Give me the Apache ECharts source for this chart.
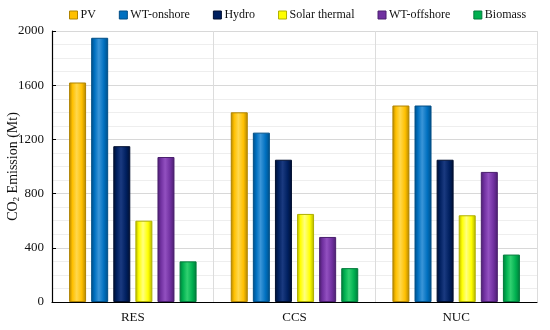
<!DOCTYPE html>
<html>
<head>
<meta charset="utf-8">
<script src="https://cdn.jsdelivr.net/npm/echarts@6/dist/echarts.min.js"></script>
<style>html,body{margin:0;padding:0;background:#fff}#c{width:550px;height:330px}</style>
</head>
<body>
<div id="c"></div>
<script>
var categories = ['RES', 'CCS', 'NUC'];
var seriesNames = ['PV', 'WT-onshore', 'Hydro', 'Solar thermal', 'WT-offshore', 'Biomass'];
var pv = [1620, 1400, 1450];
var wtOnshore = [1950, 1250, 1450];
var hydro = [1150, 1050, 1050];
var solarThermal = [600, 650, 640];
var wtOffshore = [1070, 480, 960];
var biomass = [300, 250, 350];
var yTicks = [0, 400, 800, 1200, 1600, 2000];

var seriesData = [pv, wtOnshore, hydro, solarThermal, wtOffshore, biomass];
var baseColors = ['#FFC000', '#0070C0', '#002060', '#FFFF00', '#7030A0', '#00B050'];
var darkColors = ['#B08400', '#004E86', '#000F30', '#B0B000', '#4A1F6E', '#007A3A'];
var lightColors = ['#FFD84D', '#3A95D8', '#1A3A80', '#FFFF80', '#9250C0', '#30D070'];
var font = '"Liberation Serif", "Times New Roman", serif';

var series = seriesNames.map(function (n, i) {
  return {
    name: n,
    type: 'bar',
    data: seriesData[i],
    barWidth: 17,
    barGap: '30%',
    itemStyle: {
      color: {
        type: 'linear', x: 0, y: 0, x2: 1, y2: 0,
        colorStops: [
          {offset: 0, color: darkColors[i]},
          {offset: 0.2, color: baseColors[i]},
          {offset: 0.45, color: lightColors[i]},
          {offset: 0.75, color: baseColors[i]},
          {offset: 1, color: darkColors[i]}
        ]
      },
      borderColor: darkColors[i],
      borderWidth: 1
    }
  };
});

var chart = echarts.init(document.getElementById('c'));
chart.setOption({
  animation: false,
  textStyle: {fontFamily: font},
  legend: {
    top: 4,
    left: 64,
    right: 0,
    itemWidth: 8,
    itemHeight: 8,
    itemGap: 23,
    icon: 'rect',
    textStyle: {fontFamily: font, fontSize: 12, color: '#111', padding: [0, 0, 0, -2]},
    data: seriesNames.map(function (n, i) {
      return {name: n, itemStyle: {color: baseColors[i], borderColor: darkColors[i], borderWidth: 1}};
    })
  },
  grid: {left: 52, right: 13, top: 31, bottom: 28, containLabel: false, outerBoundsMode: 'none'},
  xAxis: {
    type: 'category',
    data: categories,
    axisLine: {lineStyle: {color: '#000', width: 1.2}},
    axisTick: {show: false},
    axisLabel: {fontFamily: font, fontSize: 13, color: '#111', margin: 9},
    splitLine: {show: true, lineStyle: {color: '#DCDCDC', width: 1}}
  },
  yAxis: {
    type: 'value',
    min: yTicks[0],
    max: yTicks[yTicks.length - 1],
    interval: 400,
    name: '{a|CO}{s|2}{a| Emission (Mt)}',
    nameLocation: 'middle',
    nameGap: 31,
    nameMoveOverlap: false,
    nameTextStyle: {
      rich: {
        a: {fontFamily: font, fontSize: 14, color: '#111'},
        s: {fontFamily: font, fontSize: 9, color: '#111', verticalAlign: 'bottom', padding: [6, 0, 0, 0]}
      }
    },
    axisLine: {show: true, lineStyle: {color: '#000', width: 1.2}},
    axisTick: {show: true, inside: true, length: 4, lineStyle: {color: '#000'}},
    axisLabel: {fontFamily: font, fontSize: 13, color: '#111', margin: 8,
      formatter: function (v) { return String(v); }},
    splitLine: {show: true, lineStyle: {color: '#D8D8D8', width: 1}},
    minorTick: {show: false, splitNumber: 4},
    minorSplitLine: {show: true, lineStyle: {color: '#EEEEEE', width: 1}}
  },
  series: series
});
</script>
</body>
</html>
